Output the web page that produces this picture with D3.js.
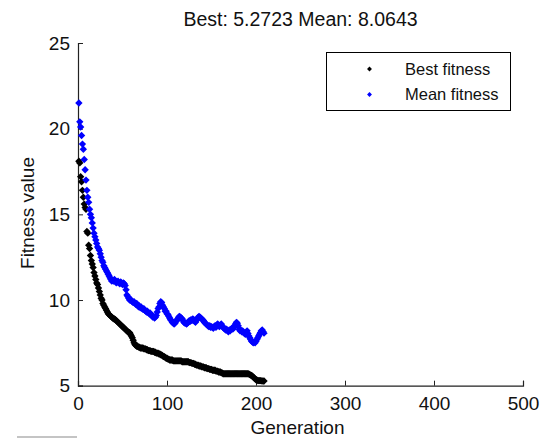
<!DOCTYPE html>
<html>
<head>
<meta charset="utf-8">
<script src="https://cdn.jsdelivr.net/npm/d3@7"></script>
<style>
  body { margin: 0; background: #fff; }
  svg { display: block; font-family: Arial, "Liberation Sans", Helvetica, sans-serif; }
</style>
</head>
<body>
<svg id="chart"></svg>
<script>
// generation 1..209
const bestFitness = [
  18.1, 18.0, 17.2, 16.9, 16.4, 16.0, 15.6, 15.4, 15.3, 14.0,
  13.9, 13.2, 13.0, 12.6, 12.3, 12.1, 11.9, 11.6, 11.4, 11.2,
  11.0, 10.9, 10.7, 10.5, 10.3, 10.1, 10.0, 9.8, 9.7, 9.6,
  9.5, 9.4, 9.3, 9.2, 9.15, 9.1, 9.05, 9.0, 8.95, 8.9,
  8.9, 8.85, 8.8, 8.75, 8.7, 8.65, 8.6, 8.55, 8.5, 8.45,
  8.4, 8.35, 8.3, 8.25, 8.2, 8.15, 8.1, 8.1, 8.0, 7.9,
  7.8, 7.65, 7.5, 7.4, 7.35, 7.3, 7.3, 7.25, 7.25, 7.2,
  7.2, 7.2, 7.2, 7.15, 7.15, 7.15, 7.1, 7.1, 7.05, 7.05,
  7.05, 7.0, 7.0, 7.0, 7.0, 6.95, 6.95, 6.9, 6.9, 6.9,
  6.85, 6.85, 6.8, 6.8, 6.75, 6.7, 6.7, 6.65, 6.6, 6.6,
  6.55, 6.55, 6.5, 6.5, 6.5, 6.5, 6.45, 6.45, 6.45, 6.45,
  6.45, 6.45, 6.45, 6.45, 6.45, 6.45, 6.4, 6.4, 6.4, 6.4,
  6.4, 6.4, 6.4, 6.4, 6.35, 6.35, 6.35, 6.3, 6.3, 6.3,
  6.25, 6.25, 6.2, 6.2, 6.2, 6.15, 6.15, 6.15, 6.1, 6.1,
  6.1, 6.05, 6.05, 6.05, 6.0, 6.0, 6.0, 5.95, 5.95, 5.95,
  5.9, 5.9, 5.9, 5.9, 5.85, 5.85, 5.85, 5.8, 5.8, 5.8,
  5.75, 5.75, 5.7, 5.7, 5.7, 5.7, 5.7, 5.7, 5.7, 5.7,
  5.7, 5.7, 5.7, 5.7, 5.7, 5.7, 5.7, 5.7, 5.7, 5.7,
  5.7, 5.7, 5.7, 5.7, 5.7, 5.7, 5.7, 5.7, 5.7, 5.7,
  5.7, 5.68, 5.65, 5.62, 5.6, 5.55, 5.5, 5.45, 5.4, 5.35,
  5.33, 5.3, 5.3, 5.3, 5.3, 5.28, 5.28, 5.27, 5.2723
];
const meanFitness = [
  21.5, 20.4, 20.1, 19.6, 19.1, 18.8, 18.2, 17.6, 17.0, 16.4,
  16.0, 15.7, 15.3, 15.0, 14.8, 14.5, 14.2, 13.9, 13.7, 13.5,
  13.3, 13.1, 13.0, 12.9, 12.7, 12.5, 12.3, 12.2, 12.0, 11.9,
  11.8, 11.7, 11.6, 11.5, 11.4, 11.3, 11.2, 11.1, 11.15, 11.1,
  11.2, 11.1, 11.0, 11.05, 11.1, 11.0, 10.95, 11.05, 11.0, 10.9,
  11.0, 10.95, 10.85, 10.6, 10.3, 10.2, 10.1, 10.0, 10.05, 9.95,
  9.9, 9.85, 9.9, 9.8, 9.75, 9.8, 9.7, 9.6, 9.65, 9.55,
  9.6, 9.5, 9.45, 9.5, 9.4, 9.35, 9.3, 9.35, 9.25, 9.2,
  9.25, 9.15, 9.1, 9.0, 9.05, 8.95, 9.0, 9.1, 9.3, 9.5,
  9.6, 9.8, 9.9, 9.85, 9.7, 9.6, 9.5, 9.35, 9.35, 9.2,
  9.15, 9.05, 8.95, 8.85, 8.8, 8.7, 8.65, 8.6, 8.65, 8.75,
  8.8, 8.9, 9.0, 9.05, 9.0, 8.95, 8.9, 8.8, 8.7, 8.65,
  8.65, 8.6, 8.65, 8.7, 8.8, 8.75, 8.85, 8.8, 8.9, 8.85,
  8.75, 8.7, 8.8, 8.9, 9.0, 9.05, 9.0, 8.95, 8.9, 8.85,
  8.8, 8.7, 8.65, 8.6, 8.55, 8.5, 8.45, 8.5, 8.4, 8.45,
  8.4, 8.35, 8.45, 8.5, 8.4, 8.55, 8.6, 8.5, 8.45, 8.55,
  8.6, 8.5, 8.4, 8.35, 8.3, 8.25, 8.3, 8.2, 8.15, 8.25,
  8.2, 8.3, 8.35, 8.3, 8.4, 8.5, 8.6, 8.7, 8.65, 8.5,
  8.3, 8.2, 8.25, 8.15, 8.2, 8.1, 8.05, 8.0, 8.1, 8.2,
  8.05, 7.9, 7.8, 7.7, 7.6, 7.55, 7.5, 7.55, 7.5, 7.6,
  7.7, 7.8, 7.9, 8.0, 8.1, 8.2, 8.25, 8.15, 8.0643
];
const xTicks = [0, 100, 200, 300, 400, 500];
const yTicks = [5, 10, 15, 20, 25];
const legendLabels = ['Best fitness', 'Mean fitness'];
const seriesColors = ['#000000', '#0000ff'];

const width = 549, height = 438;
const svg = d3.select('#chart').attr('width', width).attr('height', height);

//plot area
const plotLeft = 78, plotRight = 523, plotTop = 43, plotBottom = 385.7;
const xScale = d3.scaleLinear().domain([0, 500]).range([plotLeft, plotRight]);
const yScale = d3.scaleLinear().domain([5, 25]).range([plotBottom, plotTop]);

// axes, ticks point inward like matlab
const xAxis = d3.axisBottom(xScale).tickValues(xTicks).tickSize(-5).tickPadding(11).tickFormat(d3.format('d'));
const yAxis = d3.axisLeft(yScale).tickValues(yTicks).tickSize(-5).tickPadding(8).tickFormat(d3.format('d'));

const gx = svg.append('g').attr('transform', `translate(0,${plotBottom})`).call(xAxis);
const gy = svg.append('g').attr('transform', `translate(${plotLeft},0)`).call(yAxis);
[gx, gy].forEach(g => {
  g.select('.domain').attr('stroke', '#222').attr('stroke-width', 1.2);
  g.selectAll('.tick line').attr('stroke', '#222');
  g.selectAll('.tick text').attr('fill', '#111').style('font-size', '19px').style('font-family', 'Arial, "Liberation Sans", sans-serif');
});

// markers (rotated squares = little diamonds)
const marker = d3.symbol().type(d3.symbolSquare).size(27);
const series = [bestFitness, meanFitness];
series.forEach((vals, i) => {
  svg.append('g').selectAll('path')
    .data(vals)
    .enter()
    .append('path')
      .attr('d', marker)
      .attr('fill', seriesColors[i])
      .attr('transform', (d, j) => `translate(${xScale(j + 1)},${yScale(d)}) rotate(45)`);
});

// title
svg.append('text')
  .attr('x', (plotLeft + plotRight) / 2)
  .attr('y', 26)
  .attr('text-anchor', 'middle')
  .style('font-size', '19.5px')
  .attr('fill', '#111')
  .text(`Best: ${bestFitness[bestFitness.length - 1].toFixed(4)} Mean: ${meanFitness[meanFitness.length - 1].toFixed(4)}`);

// axis labels
svg.append('text')
  .attr('x', 297.5)
  .attr('y', 434)
  .attr('text-anchor', 'middle')
  .style('font-size', '19px')
  .attr('fill', '#111')
  .text('Generation');
svg.append('text')
  .attr('transform', 'translate(34,213) rotate(-90)')
  .attr('text-anchor', 'middle')
  .style('font-size', '19px')
  .attr('fill', '#111')
  .text('Fitness value');

// legend
const legend = svg.append('g');
legend.append('rect')
  .attr('x', 326.5).attr('y', 52.5).attr('width', 184).attr('height', 58)
  .attr('fill', '#fff').attr('stroke', '#000').attr('stroke-width', 1);
legendLabels.forEach((lab, i) => {
  const ly = 69 + i * 25.5;
  legend.append('path')
    .attr('d', d3.symbol().type(d3.symbolSquare).size(12))
    .attr('fill', seriesColors[i])
    .attr('transform', `translate(369.5,${ly}) rotate(45)`);
  legend.append('text')
    .attr('x', 405).attr('y', ly + 5.5)
    .style('font-size', '16.5px')
    .attr('fill', '#111')
    .text(lab);
});

// stray grey bar at the bottom left of the screenshot
svg.append('line')
  .attr('x1', 17).attr('x2', 77).attr('y1', 437).attr('y2', 437)
  .attr('stroke', '#b0b0b0').attr('stroke-width', 1.5);
</script>
</body>
</html>
